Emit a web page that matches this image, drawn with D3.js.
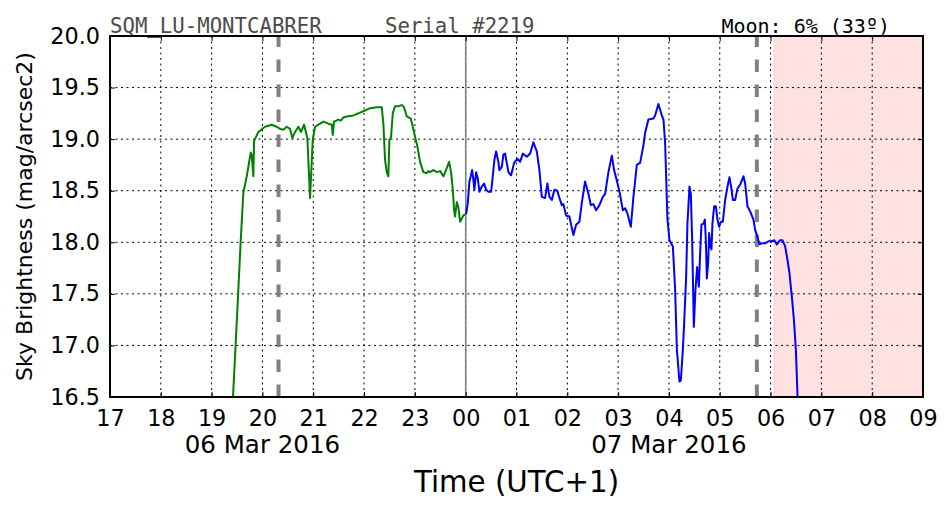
<!DOCTYPE html>
<html><head><meta charset="utf-8">
<script src="https://cdn.jsdelivr.net/npm/d3@7"></script>
<style>html,body{margin:0;padding:0;background:#fff;}svg{display:block;}</style>
</head><body>
<script>
// Hours counted from 06 Mar 2016 00:00 (UTC+1)
const xTickHours = [17,18,19,20,21,22,23,24,25,26,27,28,29,30,31,32,33];
const xTickLabels = ["17","18","19","20","21","22","23","00","01","02","03","04","05","06","07","08","09"];
const yTicks = [16.5,17.0,17.5,18.0,18.5,19.0,19.5,20.0];
const dateHours = [20, 28];
const dateLabels = ["06 Mar 2016", "07 Mar 2016"];
const twilightHours = [20.317, 29.730];
const midnightHour = [24];
const daySpan = [30.071, 33];

const greenHour = [19.40,19.461,19.526,19.573,19.624,19.691,19.770,19.789,19.821,19.835,19.919,20.051,20.183,20.281,20.346,20.411,20.478,20.543,20.589,20.642,20.707,20.760,20.819,20.884,20.937,20.990,21.035,21.134,21.199,21.297,21.364,21.384,21.409,21.494,21.541,21.593,21.659,21.789,21.986,22.118,22.250,22.348,22.380,22.413,22.447,22.478,22.498,22.531,22.565,22.610,22.675,22.742,22.787,22.841,22.919,22.959,23.004,23.049,23.102,23.167,23.234,23.266,23.299,23.364,23.431,23.496,23.561,23.628,23.673,23.713,23.746,23.772,23.791,23.825,23.856,23.890,23.923,23.955,23.988];
const greenValue = [16.30,16.89,17.54,18.02,18.48,18.64,18.87,18.85,18.64,18.98,19.07,19.12,19.14,19.12,19.10,19.09,19.12,19.10,19.01,19.07,19.12,19.07,19.14,19.01,18.43,18.99,19.12,19.15,19.17,19.15,19.14,19.04,19.17,19.19,19.18,19.21,19.22,19.23,19.27,19.30,19.31,19.31,19.15,18.80,18.68,18.64,18.99,19.02,19.25,19.32,19.32,19.33,19.31,19.22,19.20,19.12,19.02,18.93,18.78,18.68,18.67,18.69,18.68,18.70,18.68,18.69,18.64,18.72,18.78,18.68,18.51,18.31,18.25,18.39,18.34,18.20,18.23,18.26,18.27];

const blueHour = [24.008,24.041,24.073,24.100,24.126,24.152,24.171,24.205,24.238,24.270,24.317,24.362,24.402,24.447,24.500,24.533,24.565,24.598,24.644,24.663,24.711,24.742,24.776,24.841,24.894,24.953,25.018,25.071,25.124,25.203,25.268,25.333,25.400,25.451,25.498,25.563,25.608,25.648,25.695,25.746,25.805,25.844,25.892,25.923,25.976,26.041,26.075,26.120,26.173,26.238,26.285,26.350,26.415,26.463,26.514,26.567,26.632,26.699,26.744,26.809,26.876,26.921,26.974,27.039,27.093,27.138,27.183,27.250,27.301,27.368,27.433,27.498,27.531,27.596,27.695,27.728,27.793,27.860,27.892,27.925,27.970,28.010,28.077,28.122,28.156,28.207,28.234,28.274,28.299,28.339,28.364,28.404,28.431,28.457,28.490,28.522,28.555,28.589,28.614,28.640,28.679,28.707,28.726,28.746,28.772,28.791,28.817,28.837,28.856,28.890,28.923,28.955,28.988,29.022,29.061,29.106,29.152,29.191,29.224,29.258,29.303,29.348,29.402,29.467,29.500,29.545,29.598,29.663,29.697,29.742,29.781,29.829,29.894,29.959,30.026,30.071,30.124,30.189,30.234,30.287,30.333,30.372,30.419,30.459,30.498,30.530,30.543];
const blueValue = [18.27,18.38,18.59,18.64,18.70,18.60,18.51,18.68,18.62,18.49,18.54,18.57,18.51,18.49,18.49,18.64,18.80,18.88,18.78,18.70,18.73,18.85,18.86,18.68,18.65,18.77,18.81,18.78,18.86,18.83,18.86,18.97,18.88,18.70,18.44,18.43,18.57,18.44,18.41,18.51,18.50,18.43,18.36,18.37,18.26,18.25,18.17,18.07,18.17,18.20,18.38,18.59,18.47,18.36,18.37,18.31,18.36,18.44,18.47,18.68,18.84,18.70,18.60,18.46,18.31,18.33,18.28,18.15,18.44,18.75,18.77,18.94,19.06,19.19,19.20,19.23,19.34,19.23,19.19,18.96,18.23,18.02,17.96,17.54,16.96,16.65,16.66,16.96,17.21,17.67,18.18,18.54,18.47,18.02,17.18,17.54,17.76,17.57,17.89,18.17,18.18,18.22,18.02,17.65,17.80,18.09,17.96,17.93,18.18,18.35,18.35,18.22,18.15,18.20,18.20,18.41,18.54,18.63,18.54,18.41,18.41,18.52,18.56,18.64,18.57,18.35,18.30,18.22,18.12,18.05,17.98,17.99,17.99,18.01,18.01,18.02,17.98,18.02,18.02,17.96,17.83,17.70,17.47,17.25,16.96,16.52,16.37];

const W = 952, H = 512;
const L = 110, R = 923, T = 36, B = 397;

const svg = d3.select("body").append("svg").attr("width", W).attr("height", H);
const x = d3.scaleLinear().domain([17, 33]).range([L, R]);
const y = d3.scaleLinear().domain([16.5, 20]).range([B, T]);

svg.append("defs").append("clipPath").attr("id", "clip")
  .append("rect").attr("x", L).attr("y", T).attr("width", R - L).attr("height", B - T);

// daylight span
svg.append("rect").attr("x", x(daySpan[0])).attr("y", T)
  .attr("width", x(daySpan[1]) - x(daySpan[0])).attr("height", B - T)
  .attr("fill", "#ffe1e1");
svg.append("line").attr("x1", x(daySpan[0])).attr("x2", x(daySpan[0]))
  .attr("y1", T).attr("y2", B).attr("stroke", "#ffcaca").attr("stroke-width", 1);

// grid
const grid = svg.append("g");
grid.selectAll("line.v").data(xTickHours.slice(1, -1)).join("line")
  .attr("x1", d => x(d)).attr("x2", d => x(d)).attr("y1", T).attr("y2", B)
  .attr("stroke", "#000").attr("stroke-width", 1).attr("stroke-dasharray", "2,3.5");
grid.selectAll("line.h").data(yTicks.slice(1, -1)).join("line")
  .attr("x1", L).attr("x2", R).attr("y1", d => y(d)).attr("y2", d => y(d))
  .attr("stroke", "#000").attr("stroke-width", 1).attr("stroke-dasharray", "2,3.5");

// midnight
svg.selectAll("line.mid").data(midnightHour).join("line")
  .attr("x1", d => x(d)).attr("x2", d => x(d)).attr("y1", T).attr("y2", B)
  .attr("stroke", "#7a7a7a").attr("stroke-width", 1.5);

// twilight dashed lines (drawn from bottom up)
svg.selectAll("line.tw").data(twilightHours).join("line")
  .attr("x1", d => x(d)).attr("x2", d => x(d)).attr("y1", B).attr("y2", T)
  .attr("stroke", "#808080").attr("stroke-width", 4).attr("stroke-dasharray", "12.5,12.5");

// data lines
const line = d3.line().x(d => x(d[0])).y(d => y(d[1]));
const gData = greenHour.map((h, i) => [h, greenValue[i]]);
const bData = blueHour.map((h, i) => [h, blueValue[i]]);
const lines = svg.append("g").attr("clip-path", "url(#clip)");
lines.append("path").datum(gData).attr("d", line).attr("fill", "none")
  .attr("stroke", "#008000").attr("stroke-width", 2).attr("stroke-linejoin", "round");
lines.append("path").datum(bData).attr("d", line).attr("fill", "none")
  .attr("stroke", "#0000ff").attr("stroke-width", 2).attr("stroke-linejoin", "round");

// axes
const fmt = d => xTickLabels[xTickHours.indexOf(d)];
const xAxis = svg.append("g").attr("transform", `translate(0,${B})`)
  .call(d3.axisBottom(x).tickValues(xTickHours).tickFormat(fmt).tickSize(-5).tickPadding(13.4));
const xAxisTop = svg.append("g").attr("transform", `translate(0,${T})`)
  .call(d3.axisTop(x).tickValues(xTickHours).tickFormat("").tickSize(-5));
const yAxis = svg.append("g").attr("transform", `translate(${L},0)`)
  .call(d3.axisLeft(y).tickValues(yTicks).tickFormat(d3.format(".1f")).tickSize(-5).tickPadding(10));
const yAxisR = svg.append("g").attr("transform", `translate(${R},0)`)
  .call(d3.axisRight(y).tickValues(yTicks).tickFormat("").tickSize(-5));
[xAxis, xAxisTop, yAxis, yAxisR].forEach(g => {
  g.select(".domain").remove();
  g.selectAll(".tick line").attr("stroke", "#000").attr("stroke-width", 1);
  g.selectAll("text").attr("font-family", "DejaVu Sans").attr("font-size", 22.3).attr("fill", "#000");
});

// frame
svg.append("rect").attr("x", L).attr("y", T).attr("width", R - L).attr("height", B - T)
  .attr("fill", "none").attr("stroke", "#000").attr("stroke-width", 2);

// date labels
svg.selectAll("text.date").data(dateHours).join("text")
  .attr("x", d => x(d)).attr("y", 453).attr("text-anchor", "middle")
  .attr("font-family", "DejaVu Sans").attr("font-size", 24.5).attr("fill", "#000")
  .text((d, i) => dateLabels[i]);

// axis titles
svg.append("text").attr("x", (L + R) / 2).attr("y", 492).attr("text-anchor", "middle")
  .attr("font-family", "DejaVu Sans").attr("font-size", 29.3).attr("fill", "#000")
  .text("Time (UTC+1)");
svg.append("text").attr("transform", `translate(32,${(T + B) / 2}) rotate(-90)`)
  .attr("text-anchor", "middle")
  .attr("font-family", "DejaVu Sans").attr("font-size", 22).attr("fill", "#000")
  .text("Sky Brightness (mag/arcsec2)");

// header texts
svg.append("text").attr("x", 110).attr("y", 33)
  .attr("font-family", "DejaVu Sans Mono").attr("font-size", 20.7).attr("fill", "#4a4a4a")
  .text("SQM_LU-MONTCABRER");
svg.append("text").attr("x", 385).attr("y", 33)
  .attr("font-family", "DejaVu Sans Mono").attr("font-size", 20.7).attr("fill", "#4a4a4a")
  .text("Serial #2219");
svg.append("text").attr("x", 890).attr("y", 33).attr("text-anchor", "end")
  .attr("font-family", "DejaVu Sans Mono").attr("font-size", 20).attr("fill", "#000")
  .text("Moon: 6% (33º)");
</script>
</body></html>
